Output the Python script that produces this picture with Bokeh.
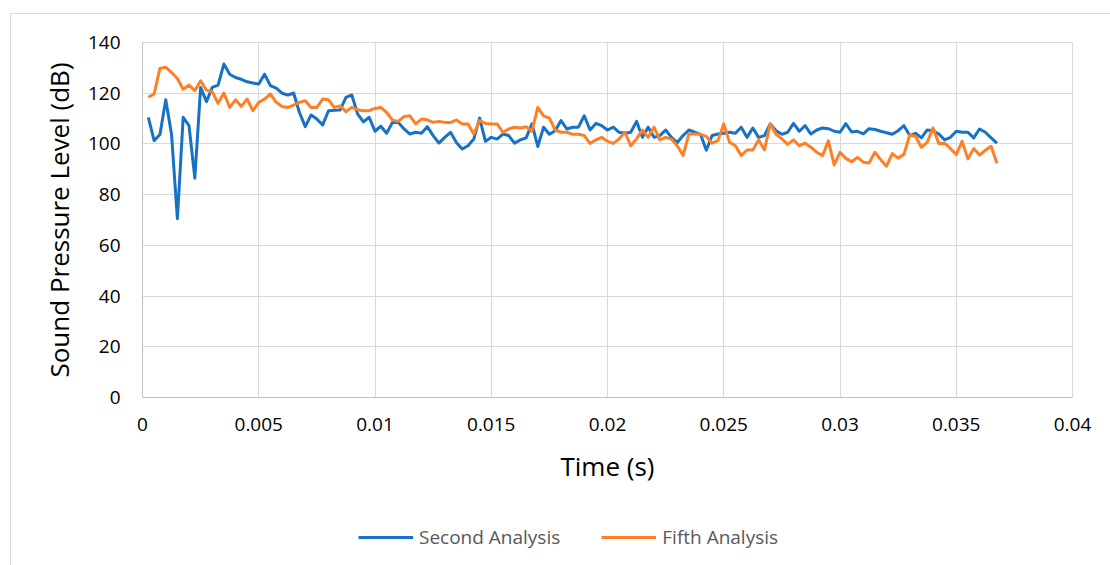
from bokeh.plotting import figure
from bokeh.layouts import column
from bokeh.models import Legend, LegendItem, CustomJSTickFormatter, FixedTicker, Range1d
from bokeh.embed import file_html
from bokeh.resources import INLINE

# ---- data ----
sample_interval = 0.00025
second_analysis = [
    110.5, 101.3, 103.7, 117.4, 103.7, 70.5, 110.5, 107.2, 86.5, 122.3,
    116.7, 122.3, 123.2, 131.5, 127.5, 126.2, 125.5, 124.5, 124.0, 123.6,
    127.5, 123.0, 122.0, 120.0, 119.3, 120.1, 112.4, 106.8, 111.4, 109.8,
    107.5, 113.1, 113.3, 113.4, 118.4, 119.3, 111.9, 108.7, 110.5, 105.0,
    107.0, 104.2, 108.5, 108.5, 105.9, 103.9, 104.6, 104.2, 106.8, 103.3,
    100.3, 102.6, 104.6, 100.6, 98.0, 99.3, 101.9, 110.2, 101.0, 102.6,
    101.9, 103.9, 103.3, 100.3, 101.6, 102.4, 107.9, 99.0, 106.6, 103.8,
    105.2, 109.2, 105.9, 106.6, 106.6, 111.1, 105.5, 108.1, 107.2, 105.5,
    106.6, 104.6, 104.2, 104.6, 108.9, 102.6, 106.6, 102.6, 103.3, 105.5,
    102.6, 100.6, 103.3, 105.5, 104.6, 103.8, 97.5, 103.3, 103.9, 104.2,
    104.6, 104.2, 106.6, 102.6, 106.3, 102.6, 103.3, 107.9, 105.2, 103.8,
    104.6, 108.1, 105.0, 107.2, 103.9, 105.5, 106.3, 106.0, 105.0, 104.6,
    108.0, 104.7, 105.0, 104.0, 106.0, 105.7, 105.0, 104.4, 103.8, 105.2,
    107.2, 103.3, 104.2, 102.4, 105.5, 105.2, 103.9, 101.6, 102.6, 105.0,
    104.6, 104.6, 102.4, 105.9, 104.6, 102.4, 100.3,
]
fifth_analysis = [
    118.4, 119.7, 129.8, 130.2, 128.2, 125.8, 121.6, 123.2, 121.0, 124.9,
    121.2, 120.6, 116.0, 120.1, 114.4, 117.4, 114.8, 117.7, 113.1, 116.4,
    117.7, 119.7, 116.4, 114.8, 114.4, 115.3, 116.4, 117.0, 114.4, 114.4,
    117.7, 117.4, 114.4, 115.0, 112.7, 114.4, 113.5, 113.1, 113.1, 114.0,
    114.4, 112.4, 109.4, 108.9, 110.8, 111.1, 107.9, 109.8, 109.5, 108.5,
    108.9, 108.5, 108.5, 109.4, 107.9, 107.9, 103.9, 109.2, 108.1, 107.9,
    107.9, 104.6, 105.9, 106.6, 106.3, 106.8, 105.0, 114.4, 111.1, 110.2,
    105.5, 104.6, 104.6, 103.8, 103.8, 103.3, 100.2, 101.6, 102.6, 101.0,
    100.2, 102.0, 104.6, 99.3, 102.0, 105.5, 102.6, 106.6, 101.6, 102.6,
    101.9, 99.3, 95.4, 103.9, 103.9, 103.8, 103.0, 100.3, 101.3, 107.9,
    100.6, 99.3, 95.4, 97.6, 97.6, 101.6, 97.6, 107.9, 103.8, 102.0,
    99.8, 101.6, 99.3, 100.3, 98.7, 96.7, 95.4, 101.2, 91.7, 96.7,
    94.3, 93.0, 94.7, 92.8, 92.5, 96.7, 93.8, 91.2, 96.2, 94.4,
    95.9, 103.5, 103.0, 98.7, 100.6, 106.3, 100.2, 100.3, 98.2, 95.8,
    101.0, 94.1, 98.2, 95.6, 97.5, 99.1, 92.4,
]
time_s = [round((i + 1) * sample_interval, 5) for i in range(len(second_analysis))]

x_ticks = [0, 0.005, 0.01, 0.015, 0.02, 0.025, 0.03, 0.035, 0.04]
y_ticks = [0, 20, 40, 60, 80, 100, 120, 140]
series_names = ["Second Analysis", "Fifth Analysis"]

BLUE = "#1772C6"
ORANGE = "#FF7F27"
FONT = "Open Sans"

# main chart (placed at 10,13 inside a bordered container)
p = figure(width=1099, height=486, output_backend="svg", toolbar_location=None,
           x_range=Range1d(0, 0.04), y_range=Range1d(0, 140),
           min_border_left=131, min_border_right=38, min_border_top=28, min_border_bottom=103)
p.background_fill_color = "white"
p.border_fill_color = "white"
p.outline_line_color = "#d9d9d9"

p.line(time_s, second_analysis, line_color=BLUE, line_width=3, line_join="round")
p.line(time_s, fifth_analysis, line_color=ORANGE, line_width=3, line_join="round")

p.xaxis.ticker = FixedTicker(ticks=x_ticks)
p.yaxis.ticker = FixedTicker(ticks=y_ticks)
p.xaxis.formatter = CustomJSTickFormatter(code="return Number(tick.toFixed(4)).toString();")

for ax in (p.xaxis, p.yaxis):
    ax.major_tick_line_color = None
    ax.minor_tick_line_color = None
    ax.axis_line_color = "#bfbfbf"
    ax.major_label_text_font = FONT
    ax.major_label_text_font_size = "19px"
    ax.major_label_text_color = "#000000"
    ax.axis_label_text_font = FONT
    ax.axis_label_text_font_size = "26px"
    ax.axis_label_text_font_style = "normal"
    ax.axis_label_text_color = "#000000"
    ax.major_tick_out = 0
    ax.major_tick_in = 0

p.xaxis.axis_label = "Time (s)"
p.yaxis.axis_label = "Sound Pressure Level (dB)"
p.xaxis.major_label_standoff = 20
p.yaxis.major_label_standoff = 22
p.xaxis.axis_label_standoff = 14
p.yaxis.axis_label_standoff = 8

p.xgrid.grid_line_color = "#d9d9d9"
p.ygrid.grid_line_color = "#d9d9d9"

# legend strip below the chart (its frame is aligned with the chart frame)
leg = figure(width=1099, height=65, output_backend="svg", toolbar_location=None,
             x_range=Range1d(0, 0.04), y_range=Range1d(0, 1),
             x_axis_type=None, y_axis_type=None,
             min_border_left=0, min_border_right=0, min_border_top=0, min_border_bottom=0)
leg.outline_line_color = None
leg.background_fill_color = "white"
leg.border_fill_color = "white"
leg.xgrid.visible = False
leg.ygrid.visible = False
# proxies for the legend swatches (the values lie outside this strip's 0..1 range)
g1 = leg.line(time_s, second_analysis, line_color=BLUE, line_width=3)
g2 = leg.line(time_s, fifth_analysis, line_color=ORANGE, line_width=3)

legend = Legend(items=[LegendItem(label=series_names[0], renderers=[g1]),
                       LegendItem(label=series_names[1], renderers=[g2])],
                location=(216, 15), orientation="horizontal",
                glyph_width=55, glyph_height=20, label_height=20,
                label_standoff=6, spacing=41, padding=0, margin=0,
                border_line_alpha=0, background_fill_alpha=0,
                label_text_font=FONT, label_text_font_size="19px",
                label_text_color="#595959")
leg.add_layout(legend)

layout = column(p, leg, spacing=0, margin=(13, 0, 0, 10),
                styles={"border-left": "1px solid #d9d9d9", "border-top": "1px solid #d9d9d9"})

open("out.html", "w").write(file_html(layout, INLINE))
